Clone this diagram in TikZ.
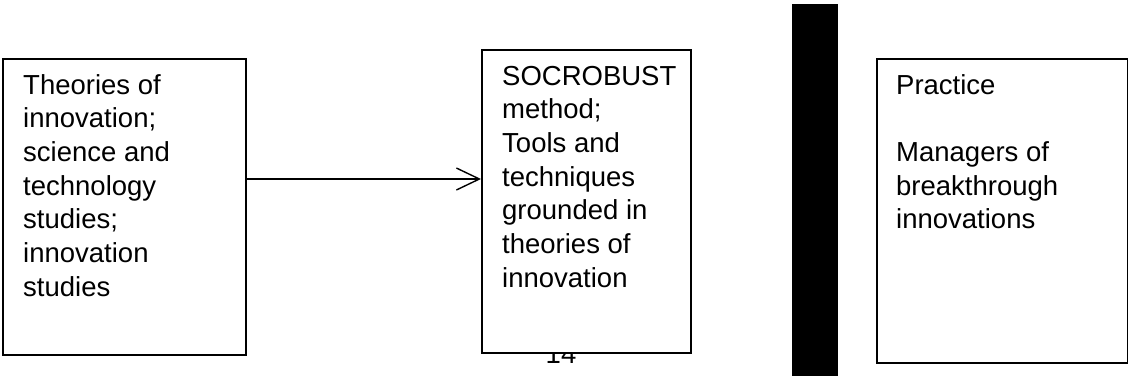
\documentclass[tikz,border=0pt]{standalone}
\usepackage{fontspec}
\setmainfont{Liberation Sans}
\usetikzlibrary{arrows.meta}

\tikzset{
  panel/.style={draw=black, line width=1.6pt, fill=white, inner sep=0pt,
                anchor=north west},
  blocktext/.style={anchor=base west, inner sep=0pt,
                    font=\fontsize{27.5}{33.7}\selectfont},
  pageno/.style={anchor=base, inner sep=0pt,
                 font=\fontsize{27.5}{33.7}\selectfont},
  divider/.style={fill=black, draw=none, inner sep=0pt, anchor=north west},
  link/.style={line width=1.4pt,
               -{Straight Barb[length=23pt, width=22pt, line width=1.4pt]}}
}

\begin{document}
\begin{tikzpicture}[x=1pt, y=-1pt]
  % page area
  \fill[white] (0,0) rectangle (1128,376);
  \useasboundingbox (0,0) rectangle (1128,376);

  % page number, partly covered by the middle box
  \node[pageno] (pnum) at (561,363) {14};

  % the three boxes
  \node[panel, minimum width=243pt, minimum height=296pt] (theory)   at (2,58)   {};
  \node[panel, minimum width=209pt, minimum height=303pt] (tools)    at (481,49) {};
  \node[panel, minimum width=251pt, minimum height=304pt] (practice) at (876,58) {};

  % thick black separator bar
  \node[divider, minimum width=46pt, minimum height=372pt] (bar) at (792,4) {};

  % box texts
  \node[blocktext] (theorytext) at (23,94) {\begin{tabular}[t]{@{}l@{}}
    Theories of\\ innovation;\\ science and\\ technology\\ studies;\\ innovation\\ studies
  \end{tabular}};
  \node[blocktext] (toolstext) at (502,85) {\begin{tabular}[t]{@{}l@{}}
    SOCROBUST\\ method;\\ Tools and\\ techniques\\ grounded in\\ theories of\\ innovation
  \end{tabular}};
  \node[blocktext] (practicetext) at (896,94) {\begin{tabular}[t]{@{}l@{}}
    Practice\\ \\ Managers of\\ breakthrough\\ innovations
  \end{tabular}};

  % connector from theory to tools
  \draw[link] (theory.east |- 0,179) -- (tools.west |- 0,179);
\end{tikzpicture}
\end{document}
